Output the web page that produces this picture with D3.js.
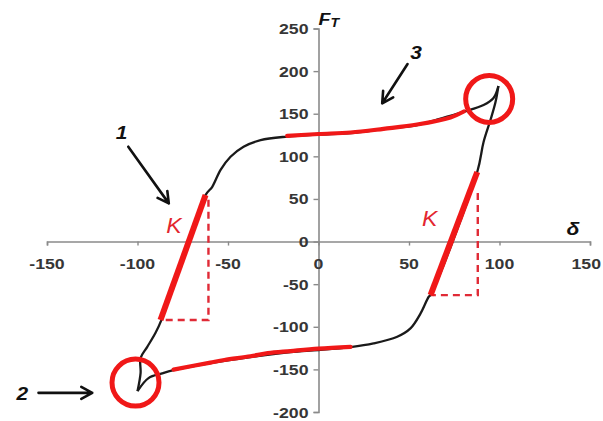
<!DOCTYPE html>
<html>
<head>
<meta charset="utf-8">
<script src="https://cdn.jsdelivr.net/npm/d3@7/dist/d3.min.js"></script>
<style>
  html, body { margin: 0; padding: 0; background: #fff; }
  svg { display: block; }
  text { font-family: "Liberation Sans", Arial, sans-serif; }
</style>
</head>
<body>
<svg id="chart" width="603" height="421"></svg>
<script>
// Axis ticks
const xTicks = [-150, -100, -50, 0, 50, 100, 150];
const yTicks = [-200, -150, -100, -50, 0, 50, 100, 150, 200, 250];

// Loading branch: from the lower-left reversal up to the upper-right reversal
const loadDelta = [-100, -98.3, -98.3, -94.6, -90.1, -86.4, -62.4, -58.7, -54.1, -48.6, -41.4, -32.0, -17.3, 0, 17.7, 35.9, 54.5, 70.2, 80.3, 91.2, 96.7, 99.4];
const loadForce = [-175.5, -154.3, -136.7, -123.5, -107.4, -90.1, 54.6, 64.3, 84.1, 99.5, 111.3, 119.0, 123.2, 125.6, 127.3, 132.0, 136.7, 146.0, 152.3, 160.2, 168.4, 182.5];

// Unloading branch: from the upper-right reversal back to the lower-left reversal
const unloadDelta = [99.4, 97.8, 95.0, 91.2, 87.7, 61.9, 60.9, 56.4, 50.8, 43.5, 30.4, 17.7, 0, -15.5, -37.6, -59.7, -80.1, -86.4, -93.9, -100];
const unloadForce = [182.5, 163.7, 142.6, 116.8, 81.6, -62.8, -64.8, -84.3, -101.9, -111.7, -119.5, -123.8, -127.3, -129.7, -135.6, -142.6, -150.9, -154.7, -160.2, -175.5];

// Highlighted plateau segments (region 3)
const upperPlateauDelta = [-17.3, 0, 17.7, 35.9, 54.5, 72.9, 80.3];
const upperPlateauForce = [124.0, 126.2, 128.0, 132.3, 137.3, 145.6, 152.6];
const lowerPlateauDelta = [-80.1, -59.7, -52, -37.6, -28, -15.5, 0, 17.7];
const lowerPlateauForce = [-150.3, -142.0, -139.0, -134.6, -131.0, -128.5, -125.6, -123.5];

// Stiffness K segments: [delta, force] endpoints
const stiffLeft = [[-87.3, -92.1], [-62.4, 54.6]];
const stiffRight = [[61.9, -62.8], [87.7, 81.6]];
// Right-angle construction under each K segment: corner and top
const stiffLeftBox = { corner: [-60.8, -92.1], top: 49, left: -87.3 };
const stiffRightBox = { corner: [88.0, -62.8], top: 57, left: 61.9 };

// Reversal points marked with circles
const reversalDelta = [94.3, -101.1];
const reversalForce = [167.3, -165.5];

// Numbered annotations: label position, arrow tail, arrow tip (data units)
const noteLabels = ["1", "2", "3"];
const noteLabelPos = [[-108.8, 129], [-163.7, -178.2], [53.9, 222.5]];
const noteArrowFrom = [[-105.1, 111.3], [-154.7, -177.5], [49.2, 208.3]];
const noteArrowTo = [[-82.7, 44.8], [-125, -177.5], [35.2, 162.2]];
const kLabelPos = [[-79.9, 19.4], [61.5, 27.2]];

const W = 603;
const svg = d3.select("#chart");
const x = d3.scaleLinear().domain([-150, 150]).range([47, 590]);
const y = d3.scaleLinear().domain([-200, 250]).range([412, 28.5]);

const axisColor = "#8a8a8a";
const labelColor = "#363636";
const red = "#f01818";
const stretch = 1.18;

// Axes through the origin
const gx = svg.append("g").attr("transform", `translate(0,${y(0)})`)
  .call(d3.axisBottom(x).tickValues(xTicks).tickSize(4).tickFormat(""));
const gy = svg.append("g").attr("transform", `translate(${x(0)},0)`)
  .call(d3.axisLeft(y).tickValues(yTicks).tickSize(5).tickFormat(""));
[gx, gy].forEach(g => {
  g.select(".domain").attr("stroke", axisColor).attr("stroke-width", 1.6);
  g.selectAll(".tick line").attr("stroke", axisColor).attr("stroke-width", 1.4);
});

// Tick labels (slightly widened glyphs); keep the outermost label inside the frame
const xLab = svg.append("g").selectAll("text").data(xTicks).join("text")
  .attr("text-anchor", "middle")
  .attr("font-size", 15).attr("font-weight", "bold").attr("fill", labelColor)
  .text(d => d);
xLab.attr("transform", function (d) {
  const half = this.getComputedTextLength() * stretch / 2;
  const cx = Math.min(x(d), W - 2 - half);
  return `translate(${cx},${y(0) + 27}) scale(${stretch},1)`;
});
svg.append("g").selectAll("text").data(yTicks).join("text")
  .attr("transform", d => `translate(${x(0) - 10},${y(d) + 5.5}) scale(${stretch},1)`)
  .attr("text-anchor", "end")
  .attr("font-size", 15).attr("font-weight", "bold").attr("fill", labelColor)
  .text(d => d);

// Axis titles
const ft = svg.append("text")
  .attr("transform", `translate(${x(0)},25) scale(${stretch},1)`)
  .attr("font-size", 16.5).attr("font-weight", "bold").attr("font-style", "italic").attr("fill", "#111");
ft.append("tspan").text("F");
ft.append("tspan").attr("font-size", 12).attr("dy", 2).text("T");
svg.append("text")
  .attr("transform", `translate(573,235) scale(${stretch},1)`)
  .attr("text-anchor", "middle")
  .attr("font-size", 18).attr("font-weight", "bold").attr("font-style", "italic").attr("fill", "#111")
  .text("δ");

// Hysteresis loop
const line = d3.line().x(d => x(d[0])).y(d => y(d[1]));
const smooth = d3.line().x(d => x(d[0])).y(d => y(d[1])).curve(d3.curveCatmullRom.alpha(0.5));
[d3.zip(loadDelta, loadForce), d3.zip(unloadDelta, unloadForce)].forEach(pts => {
  svg.append("path").attr("d", smooth(pts))
    .attr("fill", "none").attr("stroke", "#1a1a1a").attr("stroke-width", 2.3)
    .attr("stroke-linejoin", "round");
});

// Plateau highlights
[[upperPlateauDelta, upperPlateauForce], [lowerPlateauDelta, lowerPlateauForce]].forEach(([dd, ff]) => {
  svg.append("path").attr("d", smooth(d3.zip(dd, ff)))
    .attr("fill", "none").attr("stroke", red).attr("stroke-width", 4.2).attr("stroke-linecap", "round");
});

// Stiffness segments and their right-angle construction
[[stiffLeft, stiffLeftBox], [stiffRight, stiffRightBox]].forEach(([seg, box]) => {
  svg.append("path")
    .attr("d", `M${x(box.corner[0])},${y(box.top)}L${x(box.corner[0])},${y(box.corner[1])}L${x(box.left)},${y(box.corner[1])}`)
    .attr("fill", "none").attr("stroke", "#e02a36").attr("stroke-width", 2.4)
    .attr("stroke-dasharray", "7,5");
  svg.append("path").attr("d", line(seg))
    .attr("fill", "none").attr("stroke", red).attr("stroke-width", 6);
});

// K labels
svg.append("g").selectAll("text").data(kLabelPos).join("text")
  .attr("transform", d => `translate(${x(d[0])},${y(d[1]) + 8}) scale(1.05,1)`)
  .attr("text-anchor", "middle")
  .attr("font-size", 22).attr("font-style", "italic").attr("fill", "#e3262f")
  .text("K");

// Reversal circles
svg.append("g").selectAll("circle").data(d3.zip(reversalDelta, reversalForce)).join("circle")
  .attr("cx", d => x(d[0])).attr("cy", d => y(d[1])).attr("r", 23.5)
  .attr("fill", "none").attr("stroke", red).attr("stroke-width", 5);

// Numbered arrows
function arrow(g, p0, p1) {
  const x0 = x(p0[0]), y0 = y(p0[1]), x1 = x(p1[0]), y1 = y(p1[1]);
  const ang = Math.atan2(y1 - y0, x1 - x0);
  const len = 12.5, spread = 0.5;
  const hx1 = x1 - len * Math.cos(ang - spread), hy1 = y1 - len * Math.sin(ang - spread);
  const hx2 = x1 - len * Math.cos(ang + spread), hy2 = y1 - len * Math.sin(ang + spread);
  g.append("path")
    .attr("d", `M${x0},${y0}L${x1},${y1}M${hx1},${hy1}L${x1},${y1}L${hx2},${hy2}`)
    .attr("fill", "none").attr("stroke", "#111").attr("stroke-width", 2.6)
    .attr("stroke-linecap", "round").attr("stroke-linejoin", "round");
}
const notes = svg.append("g");
noteLabels.forEach((lab, i) => {
  arrow(notes, noteArrowFrom[i], noteArrowTo[i]);
  notes.append("text")
    .attr("transform", `translate(${x(noteLabelPos[i][0])},${y(noteLabelPos[i][1]) + 7}) scale(1.1,1)`)
    .attr("text-anchor", "middle")
    .attr("font-size", 19).attr("font-weight", "bold").attr("font-style", "italic").attr("fill", "#111")
    .text(lab);
});
</script>
</body>
</html>
